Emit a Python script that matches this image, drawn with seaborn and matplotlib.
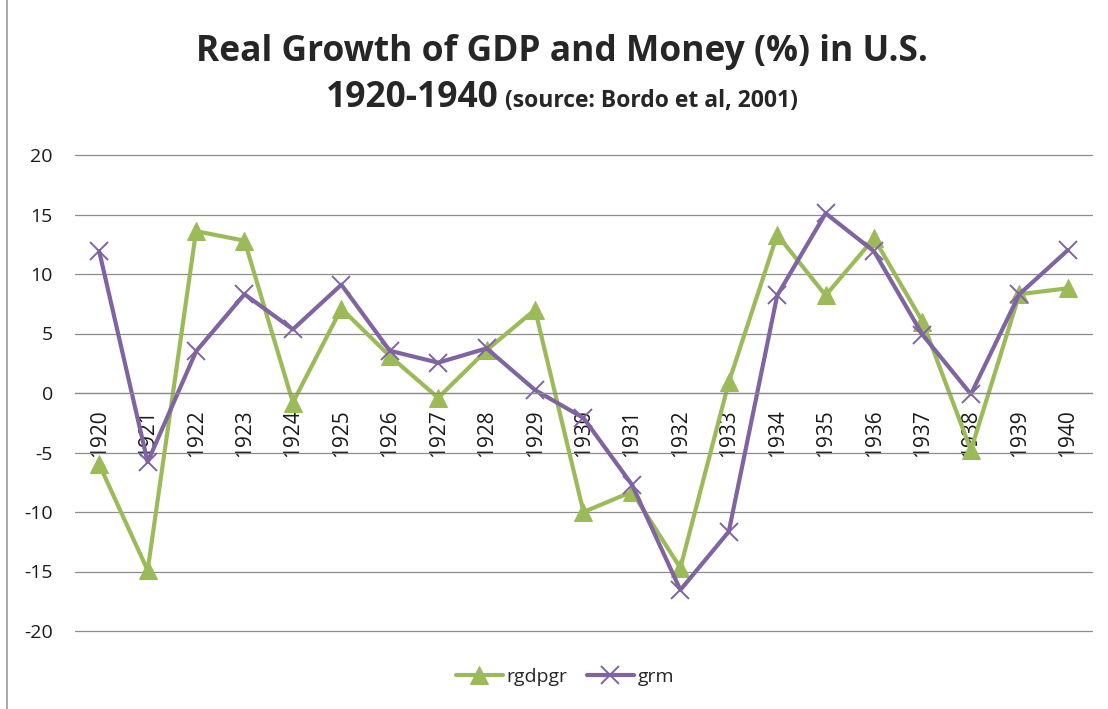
import numpy as np
import pandas as pd
import matplotlib
matplotlib.use("Agg")
import matplotlib.pyplot as plt
from matplotlib.lines import Line2D
import seaborn as sns

# data
years = list(range(1920, 1941))
rgdpgr = [-6.0, -14.9, 13.6, 12.8, -0.8, 7.1, 3.1, -0.4, 3.6, 7.0,
          -10.0, -8.3, -14.7, 0.9, 13.3, 8.2, 13.0, 6.0, -4.8, 8.3, 8.8]
grm = [11.9, -5.8, 3.5, 8.3, 5.35, 9.1, 3.55, 2.55, 3.75, 0.25,
       -2.1, -7.7, -16.55, -11.65, 8.2, 15.1, 11.9, 4.9, -0.1, 8.3, 12.0]
series_names = ["rgdpgr", "grm"]
y_ticks = [-20, -15, -10, -5, 0, 5, 10, 15, 20]

green = "#9BBB59"
purple = "#8064A2"
grid_col = "#8C8C8C"

sns.set_style("white")
plt.rcParams["font.family"] = ["Open Sans", "DejaVu Sans"]

df = pd.DataFrame({"year": years, "rgdpgr": rgdpgr, "grm": grm})

fig = plt.figure(figsize=(11.08, 7.09), dpi=100)
ax = fig.add_axes([75 / 1108, 1 - 631 / 709, (1092 - 75) / 1108, (631 - 155) / 709])

sns.lineplot(data=df, x="year", y="rgdpgr", ax=ax, color=green, lw=3,
             marker="^", ms=12.5, mec=green, mfc=green, label=series_names[0])
sns.lineplot(data=df, x="year", y="grm", ax=ax, color=purple, lw=3,
             marker="x", ms=12.5, mec=purple, mew=1.4, label=series_names[1])

ax.set_xlim(1919.5, 1940.5)
ax.set_ylim(-20, 20)
ax.set_xlabel("")
ax.set_ylabel("")

for s in ["top", "right", "left"]:
    ax.spines[s].set_visible(False)
# category axis crosses at zero (this resets the ticks, so set them after)
ax.spines["bottom"].set_position(("data", 0))
ax.spines["bottom"].set_color(grid_col)
ax.spines["bottom"].set_linewidth(0.9)

ax.set_yticks(y_ticks)
ax.set_yticklabels([str(v) for v in y_ticks])
ax.set_xticks(years)
ax.set_xticklabels([str(y) for y in years])
ax.tick_params(axis="y", length=0, pad=16, labelsize=14, colors="#1a1a1a")
ax.tick_params(axis="x", length=0, pad=12, labelsize=15, colors="#1a1a1a",
               labelrotation=90)

ax.grid(axis="y", color=grid_col, lw=0.9)
ax.grid(axis="x", visible=False)
ax.set_axisbelow(True)
for gl in ax.get_ygridlines():
    gl.set_clip_on(False)

# legend at the bottom
handles, labels = ax.get_legend_handles_labels()
ax.get_legend().remove()
fig.legend(handles, labels, loc="center", bbox_to_anchor=(0.51, 1 - 677 / 709),
           ncol=2, frameon=False, fontsize=14, handlelength=2.4,
           handletextpad=0.2, columnspacing=1.0)

# title, two lines; second line mixes sizes
fig.text(0.507, 1 - 61 / 709, "Real Growth of GDP and Money (%) in U.S.",
         ha="center", va="baseline", fontsize=25.5, fontweight="bold")
t1 = fig.text(0, 1 - 107 / 709, "1920-1940", ha="left", va="baseline",
              fontsize=25.5, fontweight="bold")
t2 = fig.text(0, 1 - 107 / 709, " (source: Bordo et al, 2001)", ha="left",
              va="baseline", fontsize=16.5, fontweight="bold")
fig.canvas.draw()
r = fig.canvas.get_renderer()
w1 = t1.get_window_extent(r).width / fig.bbox.width
w2 = t2.get_window_extent(r).width / fig.bbox.width
x0 = 0.507 - (w1 + w2) / 2
t1.set_x(x0)
t2.set_x(x0 + w1)

# chart-area border on the left
fig.add_artist(Line2D([7 / 1108, 7 / 1108], [0, 1], color="#999999", lw=1.2))

fig.savefig("out.png", dpi=100, facecolor="white")
